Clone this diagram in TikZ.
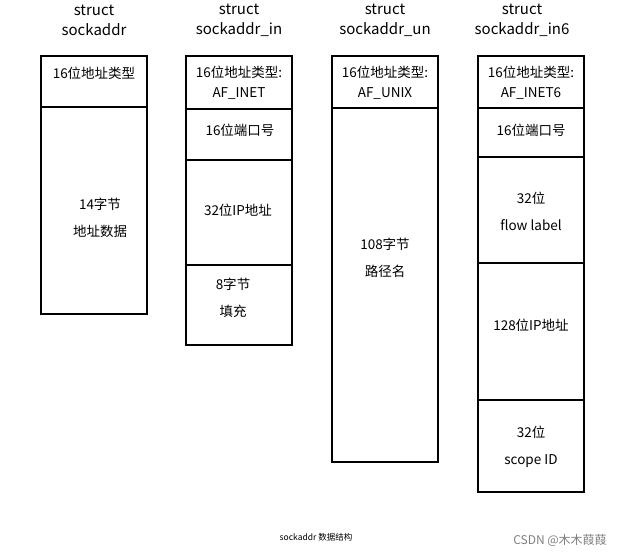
\documentclass[tikz,border=0pt]{standalone}
\usepackage{fontspec}
\setmainfont{Noto Sans CJK SC}
\begin{document}
\begin{tikzpicture}[x=1pt,y=-1pt,
  box/.style={draw=black,line width=2pt},
  lbl/.style={font=\fontsize{13.5}{20}\selectfont,align=center,inner sep=0pt},
  lbl2/.style={font=\fontsize{13.5}{27}\selectfont,align=center,inner sep=0pt},
  ttl/.style={font=\fontsize{15}{20}\selectfont,align=center,inner sep=0pt}]
\useasboundingbox[fill=white] (0,0) rectangle (636,558);
% column 1
\draw[box] (41,56) rectangle (147,314);
\draw[box] (41,107) -- (147,107);
\node[ttl] (t1) at (94,20) {struct\\sockaddr};
\node[lbl] (a1) at (94,73) {16位地址类型};
\node[lbl2] (a2) at (100,218) {14字节\\地址数据};
% column 2
\draw[box] (186,56) rectangle (292,345);
\draw[box] (186,109) -- (292,109);
\draw[box] (186,160) -- (292,160);
\draw[box] (186,265) -- (292,265);
\node[ttl] (t2) at (239,20) {struct\\sockaddr\_in};
\node[lbl] (b1) at (239,83) {16位地址类型:\\AF\_INET};
\node[lbl] (b2) at (240,130) {16位端口号};
\node[lbl] (b3) at (238,210) {32位IP地址};
\node[lbl2] (b4) at (233,298) {8字节\\填充};
% column 3
\draw[box] (332,56) rectangle (438,462);
\draw[box] (332,108) -- (438,108);
\node[ttl] (t3) at (385,20) {struct\\sockaddr\_un};
\node[lbl] (c1) at (385,83) {16位地址类型:\\AF\_UNIX};
\node[lbl2] (c2) at (385,258) {108字节\\路径名};
% column 4
\draw[box] (478,56) rectangle (584,492);
\draw[box] (478,108) -- (584,108);
\draw[box] (478,157) -- (584,157);
\draw[box] (478,263) -- (584,263);
\draw[box] (478,400) -- (584,400);
\node[ttl] (t4) at (522,20) {struct\\sockaddr\_in6};
\node[lbl] (d1) at (531,83) {16位地址类型:\\AF\_INET6};
\node[lbl] (d2) at (531,130) {16位端口号};
\node[lbl2] (d3) at (531,211) {32位\\flow label};
\node[lbl] (d4) at (531,325) {128位IP地址};
\node[lbl2] (d5) at (531,447) {32位\\scope ID};
% caption
\node[font=\fontsize{8.5}{10}\selectfont,inner sep=0pt] (cap) at (316,537) {sockaddr 数据结构};
\node[font=\fontsize{12}{14}\selectfont,text=gray,inner sep=0pt] (src) at (560,540) {CSDN @木木葭葭};
\end{tikzpicture}
\end{document}
